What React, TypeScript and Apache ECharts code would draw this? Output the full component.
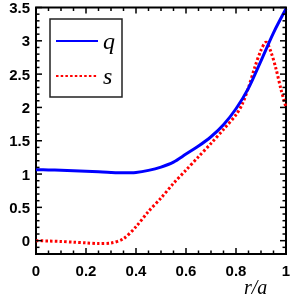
import React, { useEffect, useRef } from "react";
import * as echarts from "echarts";

const qR = [0, 0.05, 0.1, 0.15, 0.2, 0.25, 0.3, 0.35, 0.4, 0.45, 0.5, 0.55, 0.6, 0.65, 0.7, 0.75, 0.8, 0.85, 0.9, 0.95, 1];
const qValues = [1.065, 1.062, 1.057, 1.05, 1.042, 1.033, 1.024, 1.019, 1.025, 1.055, 1.105, 1.18, 1.3, 1.42, 1.56, 1.74, 1.98, 2.29, 2.7, 3.12, 3.48];

const sR = [0, 0.05, 0.1, 0.15, 0.2, 0.25, 0.3, 0.35, 0.4, 0.45, 0.5, 0.55, 0.6, 0.65, 0.7, 0.75, 0.8, 0.825, 0.85, 0.875, 0.9, 0.92, 0.94, 0.96, 0.98, 1];
const sValues = [0, -0.005, -0.012, -0.022, -0.033, -0.043, -0.035, 0.03, 0.21, 0.44, 0.64, 0.86, 1.06, 1.26, 1.46, 1.67, 1.89, 2.05, 2.3, 2.6, 2.86, 2.98, 2.83, 2.58, 2.27, 2.0];

const xMajorTicks = [0, 0.2, 0.4, 0.6, 0.8, 1];
const xMinorTicks = [0.05, 0.1, 0.15, 0.25, 0.3, 0.35, 0.45, 0.5, 0.55, 0.65, 0.7, 0.75, 0.85, 0.9, 0.95];
const yMajorTicks = [0, 0.5, 1, 1.5, 2, 2.5, 3, 3.5];
const yMinorTicks = [-0.1, 0.1, 0.2, 0.3, 0.4, 0.6, 0.7, 0.8, 0.9, 1.1, 1.2, 1.3, 1.4, 1.6, 1.7, 1.8, 1.9, 2.1, 2.2, 2.3, 2.4, 2.6, 2.7, 2.8, 2.9, 3.1, 3.2, 3.3, 3.4];

const seriesNames = ["q", "s"];
const xLabel = "r/a";

export default function App() {
  const ref = useRef<HTMLDivElement>(null);
  useEffect(() => {
    if (!ref.current) return;
    const chart = echarts.init(ref.current, undefined, { renderer: "svg" });
    const labelFont = () => ({
      color: "#000",
      fontFamily: "Liberation Sans",
      fontWeight: "bold",
      fontSize: 15,
    });
    const MAJOR = 6;
    const MINOR = 3.5;
    const tickRows: number[][] = [
      ...xMajorTicks.map((v) => [0, v, MAJOR]),
      ...xMinorTicks.map((v) => [0, v, MINOR]),
      ...yMajorTicks.map((v) => [1, v, MAJOR]),
      ...yMinorTicks.map((v) => [1, v, MINOR]),
    ];
    chart.setOption({
      animation: false,
      grid: {
        left: 36,
        right: 14,
        top: 6,
        bottom: 46,
        show: true,
        borderColor: "#000",
        borderWidth: 2,
        backgroundColor: "transparent",
      },
      xAxis: {
        type: "value",
        min: 0,
        max: 1,
        interval: 0.2,
        axisLine: { show: false, onZero: false },
        axisTick: { show: false },
        axisLabel: { show: true, margin: 9, ...labelFont() },
        splitLine: { show: false },
      },
      yAxis: {
        type: "value",
        min: -0.2,
        max: 3.5,
        axisLine: { show: false, onZero: false },
        axisTick: { show: false },
        axisLabel: { show: true, customValues: yMajorTicks, margin: 6, ...labelFont() },
        splitLine: { show: false },
      },
      legend: {
        orient: "vertical",
        left: 50,
        top: 19,
        padding: [10, 7, 9, 5],
        itemWidth: 42,
        itemHeight: 14,
        itemGap: 11,
        backgroundColor: "#fff",
        borderColor: "#222",
        borderWidth: 1.5,
        data: seriesNames,
        itemStyle: { opacity: 0 },
        textStyle: {
          fontFamily: "Liberation Serif",
          fontStyle: "italic",
          fontSize: 24,
          color: "#000",
        },
      },
      graphic: [
        {
          type: "text",
          left: 244,
          top: 277,
          style: {
            text: xLabel,
            font: "italic 20px 'Liberation Serif'",
            fill: "#000",
          },
        },
      ],
      series: [
        {
          name: seriesNames[0],
          type: "line",
          smooth: 0.3,
          showSymbol: false,
          symbol: "none",
          data: qR.map((r, i) => [r, qValues[i]]),
          lineStyle: { color: "#0000ff", width: 3 },
          itemStyle: { color: "#0000ff" },
          z: 3,
        },
        {
          name: seriesNames[1],
          type: "line",
          smooth: 0.3,
          showSymbol: false,
          symbol: "none",
          data: sR.map((r, i) => [r, sValues[i]]),
          lineStyle: { color: "#ff0000", width: 3, type: [2.5, 2.2], cap: "butt" },
          itemStyle: { color: "#ff0000" },
          z: 2,
        },
        {
          name: "ticks",
          type: "custom",
          silent: true,
          clip: false,
          z: 4,
          data: tickRows,
          renderItem: (params: any, api: any) => {
            const cs = params.coordSys;
            const which = api.value(0);
            const v = api.value(1);
            const len = api.value(2);
            const style = { stroke: "#000", lineWidth: 1.5 };
            if (which === 0) {
              const px = api.coord([v, 0])[0];
              return {
                type: "group",
                children: [
                  { type: "line", shape: { x1: px, y1: cs.y + cs.height, x2: px, y2: cs.y + cs.height - len }, style },
                  { type: "line", shape: { x1: px, y1: cs.y, x2: px, y2: cs.y + len }, style },
                ],
              };
            }
            const py = api.coord([0, v])[1];
            return {
              type: "group",
              children: [
                { type: "line", shape: { x1: cs.x, y1: py, x2: cs.x + len, y2: py }, style },
                { type: "line", shape: { x1: cs.x + cs.width, y1: py, x2: cs.x + cs.width - len, y2: py }, style },
              ],
            };
          },
        },
      ],
    });
    return () => chart.dispose();
  }, []);
  return (
    <div
      ref={ref}
      style={{ position: "fixed", left: 0, top: 0, width: 300, height: 300 }}
    />
  );
}
